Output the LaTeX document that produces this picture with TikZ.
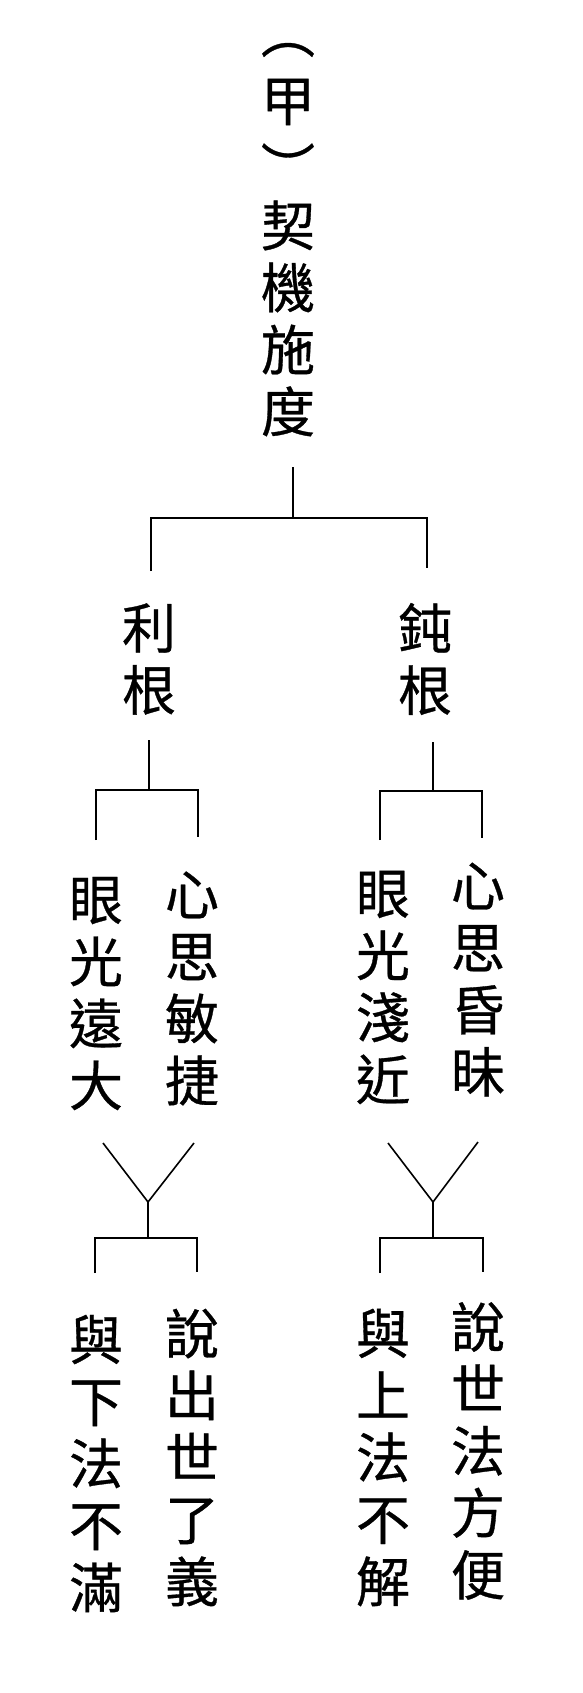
\documentclass[tikz,border=0pt]{standalone}
\usepackage{fontspec}
\newfontfamily\cjk[FakeBold=0.6]{Noto Sans CJK TC}
\begin{document}
\begin{tikzpicture}[x=1pt,y=-1pt,
  vt/.style={font=\cjk\fontsize{54}{62}\selectfont, align=center, inner sep=0pt, text=black},
  ln/.style={line width=1.6pt, draw=black}]
\useasboundingbox[fill=white] (0,0) rectangle (582,1693);
% texts
\node[vt] (lp) at (288,50) {︵};
\node[vt] (jia) at (288,102) {甲};
\node[vt] (rp) at (288,166) {︶};
\node[vt] (root) at (288,318.5) {契\\機\\施\\度};
\node[vt] (li) at (149,659) {利\\根};
\node[vt] (dun) at (425,659) {鈍\\根};
\node[vt] (a1) at (96,993.5) {眼\\光\\遠\\大};
\node[vt] (a2) at (192,988.5) {心\\思\\敏\\捷};
\node[vt] (b1) at (383,987.5) {眼\\光\\淺\\近};
\node[vt] (b2) at (478,979.5) {心\\思\\昏\\昧};
\node[vt] (c1) at (96,1463.5) {與\\下\\法\\不\\滿};
\node[vt] (c2) at (192,1457.5) {說\\出\\世\\了\\義};
\node[vt] (d1) at (383,1457.5) {與\\上\\法\\不\\解};
\node[vt] (d2) at (478,1451) {說\\世\\法\\方\\便};
% junction coordinates
\coordinate (r0) at (293,467); \coordinate (r1) at (293,518);
\coordinate (rl) at (151,518); \coordinate (rr) at (427,518);
\coordinate (rlb) at (151,571); \coordinate (rrb) at (427,568);
\coordinate (l0) at (149,740); \coordinate (l1) at (149,790);
\coordinate (ll) at (96,790); \coordinate (lr) at (198,790);
\coordinate (llb) at (96,840); \coordinate (lrb) at (198,837);
\coordinate (n0) at (433,742); \coordinate (n1) at (433,791);
\coordinate (nl) at (380,791); \coordinate (nr) at (482,791);
\coordinate (nlb) at (380,840); \coordinate (nrb) at (482,838);
\coordinate (y1) at (103,1143); \coordinate (y2) at (194,1143);
\coordinate (yc) at (148,1202); \coordinate (yb) at (148,1238);
\coordinate (yl) at (95,1238); \coordinate (yr) at (197,1238);
\coordinate (ylb) at (95,1273); \coordinate (yrb) at (197,1272);
\coordinate (z1) at (388,1143); \coordinate (z2) at (478,1142);
\coordinate (zc) at (433,1202); \coordinate (zb) at (433,1238);
\coordinate (zl) at (380,1238); \coordinate (zr) at (483,1238);
\coordinate (zlb) at (380,1273); \coordinate (zrb) at (483,1272);
% connectors
\draw[ln] (r0) -- (r1);
\draw[ln] (rlb) -- (rl) -- (rr) -- (rrb);
\draw[ln] (l0) -- (l1);
\draw[ln] (llb) -- (ll) -- (lr) -- (lrb);
\draw[ln] (n0) -- (n1);
\draw[ln] (nlb) -- (nl) -- (nr) -- (nrb);
\draw[ln] (y1) -- (yc) -- (y2);
\draw[ln] (yc) -- (yb);
\draw[ln] (ylb) -- (yl) -- (yr) -- (yrb);
\draw[ln] (z1) -- (zc) -- (z2);
\draw[ln] (zc) -- (zb);
\draw[ln] (zlb) -- (zl) -- (zr) -- (zrb);
\end{tikzpicture}
\end{document}
